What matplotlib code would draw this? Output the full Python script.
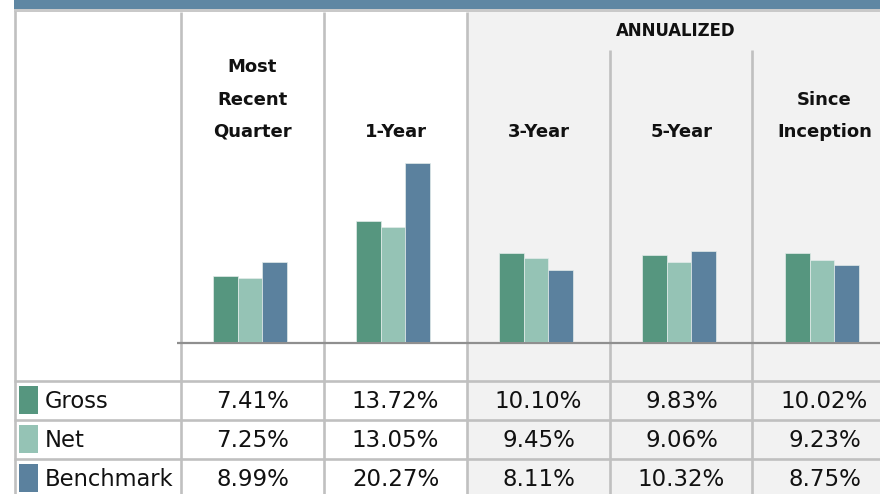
import matplotlib
matplotlib.use("Agg")
import matplotlib.pyplot as plt
from matplotlib.patches import Rectangle

# ---- data ----
periods = ["Most Recent Quarter", "1-Year", "3-Year", "5-Year", "Since Inception"]
header_lines = [["Most", "Recent", "Quarter"], ["1-Year"], ["3-Year"], ["5-Year"], ["Since", "Inception"]]
series_names = ["Gross", "Net", "Benchmark"]
gross = [7.41, 13.72, 10.10, 9.83, 10.02]
net = [7.25, 13.05, 9.45, 9.06, 9.23]
benchmark = [8.99, 20.27, 8.11, 10.32, 8.75]
group_label = "ANNUALIZED"

colors = ["#56967F", "#95C3B5", "#5B819E"]
W, H = 880, 494
fig = plt.figure(figsize=(W / 100, H / 100), dpi=100)
fig.patch.set_facecolor("white")

# background / table layer in pixel coordinates
bg = fig.add_axes([0, 0, 1, 1])
bg.set_xlim(0, W)
bg.set_ylim(H, 0)
bg.axis("off")

grid_c = "#C0C0C0"
# top blue band and gray rule
bg.add_patch(Rectangle((14, 0), W - 14, 9.5, color="#5F87A3", lw=0))
bg.add_patch(Rectangle((14, 9.5), W - 14, 2.5, color="#C9C9C9", lw=0))
# shaded annualized area
bg.add_patch(Rectangle((468, 12), W - 468, H - 12, color="#F2F2F2", lw=0))

col_edges = [181, 324, 467, 610, 752]
lw_grid = 1.9
bg.plot([14.5, 14.5], [11, H], color=grid_c, lw=lw_grid, solid_capstyle="butt")
for x in col_edges[:3]:
    bg.plot([x, x], [12, H], color=grid_c, lw=lw_grid, solid_capstyle="butt")
for x in col_edges[3:]:
    bg.plot([x, x], [50, H], color=grid_c, lw=lw_grid, solid_capstyle="butt")
# row lines
row_lines = [381, 420, 459]
for y in row_lines:
    bg.plot([14, W], [y, y], color=grid_c, lw=lw_grid, solid_capstyle="butt")
# baseline
bg.plot([177, W], [342.5, 342.5], color="#8F8F8F", lw=1.6, solid_capstyle="butt")

# headers
col_w = 143
head_font = dict(family="DejaVu Sans", fontweight="bold", fontsize=13.0, color="#111111")
baselines = [72.5, 104.5, 136.5]
for i, lines in enumerate(header_lines):
    cx = col_edges[0] + col_w * (i + 0.5)
    n = len(lines)
    for j, line in enumerate(lines):
        y = baselines[3 - n + j]
        bg.text(cx, y, line, ha="center", va="baseline", **head_font)

bg.text(676, 36.5, group_label, ha="center", va="baseline", family="DejaVu Sans",
        fontstretch="condensed", fontweight="bold", fontsize=13.2, color="#111111")

# table rows
row_base = [407.5, 446.5, 486]
series = [gross, net, benchmark]
for r, (name, vals) in enumerate(zip(series_names, series)):
    top = row_lines[r]
    bg.add_patch(Rectangle((19, top + 4.5), 19, 28, color=colors[r], lw=0))
    bg.text(45, row_base[r], name, ha="left", va="baseline", family="DejaVu Sans",
            fontsize=16.3, color="#111111")
    for i, v in enumerate(vals):
        cx = col_edges[0] + col_w * (i + 0.5)
        bg.text(cx, row_base[r], f"{v:.2f}%", ha="center", va="baseline",
                family="DejaVu Sans", fontsize=16.5, color="#111111")

# bar chart layer
px_per_pct = 8.85
ax_left, ax_right = 181, 181 + 5 * col_w
ax_base, ax_top = 342, 12
ax = fig.add_axes([ax_left / W, (H - ax_base) / H, (ax_right - ax_left) / W, (ax_base - ax_top) / H])
ax.patch.set_alpha(0)
ax.set_xlim(-0.5, 4.5)
ax.set_ylim(0, (ax_base - ax_top) / px_per_pct)
ax.axis("off")
bw = 0.171
shift = -0.017
xs = list(range(len(periods)))
for k, vals in enumerate(series):
    ax.bar([x + shift + (k - 1) * bw for x in xs], vals, width=bw, color=colors[k],
           edgecolor="#E3ECEA", linewidth=0.5)

fig.savefig("out.png", dpi=100)
